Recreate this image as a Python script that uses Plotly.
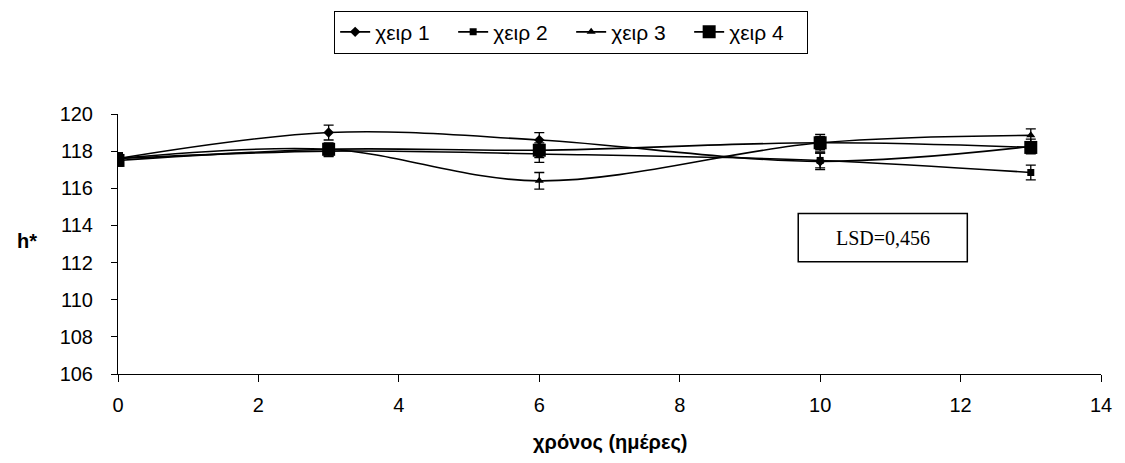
import plotly.graph_objects as go

# Sampling days
days = [0, 3, 6, 10, 13]

# h* values per treatment
xeir1 = [117.6, 119.0, 118.6, 117.45, 118.25]
xeir2 = [117.6, 118.0, 117.85, 117.5, 116.85]
xeir3 = [117.6, 118.1, 116.4, 118.45, 118.85]
xeir4 = [117.5, 118.1, 118.05, 118.45, 118.2]

# Standard errors
err1 = [0.3, 0.4, 0.4, 0.45, 0.4]
err2 = [0.3, 0.3, 0.45, 0.4, 0.4]
err3 = [0.3, 0.3, 0.45, 0.35, 0.35]
err4 = [0.3, 0.35, 0.4, 0.45, 0.3]

names = ["χειρ 1", "χειρ 2", "χειρ 3", "χειρ 4"]
series = [xeir1, xeir2, xeir3, xeir4]
errors = [err1, err2, err3, err4]
symbols = ["diamond", "square", "triangle-up", "square"]
sizes = [8, 7, 8, 13]

FONT = "Liberation Sans, Arial, sans-serif"
FS = 20

fig = go.Figure()
for name, vals, err, sym, sz in zip(names, series, errors, symbols, sizes):
    fig.add_trace(go.Scatter(
        x=days, y=vals, name=name, mode="lines+markers",
        line=dict(color="black", width=1.6, shape="spline", smoothing=1.0),
        marker=dict(symbol=sym, size=sz, color="black"),
        error_y=dict(type="data", array=err, visible=True,
                     color="black", thickness=1.3, width=5),
    ))

fig.update_layout(
    width=1125, height=463,
    margin=dict(l=118, r=24, t=113, b=89),
    paper_bgcolor="white", plot_bgcolor="white",
    font=dict(family=FONT, size=FS, color="black"),
    showlegend=True,
    legend=dict(
        orientation="h", x=0.461, xanchor="center", y=1.392, yanchor="top",
        bordercolor="black", borderwidth=1, bgcolor="white",
        font=dict(family=FONT, size=21, color="black"),
        itemclick=False, tracegroupgap=0, itemwidth=30,
        entrywidth=73, entrywidthmode="pixels",
    ),
    xaxis=dict(
        range=[0, 14], dtick=2, tick0=0, showgrid=False, zeroline=False,
        showline=True, linecolor="black", linewidth=1,
        ticks="outside", ticklen=7, tickcolor="black",
        ticklabelstandoff=6,
        tickfont=dict(family=FONT, size=FS, color="black"),
    ),
    yaxis=dict(
        range=[106, 120], dtick=2, tick0=106, showgrid=False, zeroline=False,
        showline=True, linecolor="black", linewidth=1,
        ticks="outside", ticklen=6, tickcolor="black",
        ticklabelstandoff=14,
        tickfont=dict(family=FONT, size=FS, color="black"),
    ),
)

# Axis titles
fig.add_annotation(
    text="<b>χρόνος (ημέρες)</b>", xref="paper", yref="paper",
    x=0.5, y=-0.263, xanchor="center", yanchor="middle", showarrow=False,
    font=dict(family=FONT, size=FS, color="black"),
)
fig.add_annotation(
    text="<b>h*</b>", xref="paper", yref="paper",
    x=-0.093, y=0.512, xanchor="center", yanchor="middle", showarrow=False,
    font=dict(family=FONT, size=FS, color="black"),
)

# LSD box
fig.add_shape(
    type="rect", xref="paper", yref="paper",
    x0=0.692, x1=0.864, y0=0.432, y1=0.617,
    line=dict(color="black", width=1.5), fillcolor="white", layer="above",
)
fig.add_annotation(
    text="LSD=0,456", xref="paper", yref="paper",
    x=0.778, y=0.5245, xanchor="center", yanchor="middle", showarrow=False,
    font=dict(family="Liberation Serif, Times New Roman, serif", size=20, color="black"),
)

fig.write_html("out.html")
